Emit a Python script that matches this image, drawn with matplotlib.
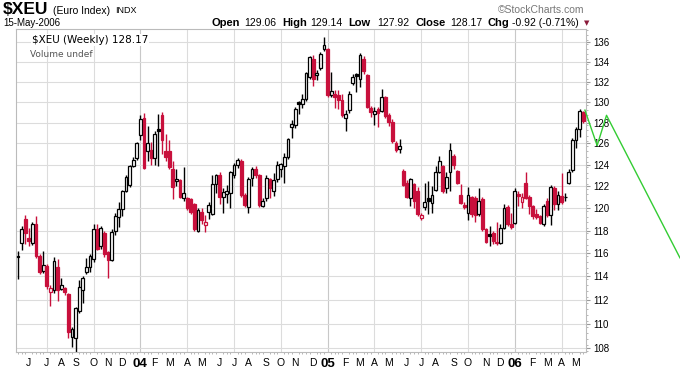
import numpy as np
import pandas as pd
import matplotlib
matplotlib.use("Agg")
import matplotlib.pyplot as plt
from matplotlib.ticker import FixedLocator, NullFormatter

plt.rcParams['font.family'] = ['Liberation Sans', 'DejaVu Sans']

# weekly candles, $XEU, May 2003 - May 2006
dates = pd.date_range(end="2006-05-15", periods=158, freq="W-MON")

opens = [115.75, 116.9, 119.0, 117.3, 116.9, 118.6, 115.8, 114.5, 114.9, 112.7,
         112.8, 114.8, 112.9, 113.0, 112.5, 108.9, 108.8, 111.1, 112.8, 114.4,
         114.8, 115.5, 118.1, 116.6, 117.8, 116.1, 115.4, 118.0, 119.2, 119.9,
         121.6, 122.1, 123.9, 124.6, 126.8, 128.4, 125.3, 125.4, 124.6, 127.4,
         128.7, 125.3, 125.3, 123.6, 122.5, 122.6, 120.9, 120.9, 120.8, 120.4,
         118.0, 119.7, 118.5, 119.7, 119.5, 122.2, 123.0, 121.0, 121.3, 121.4,
         123.0, 124.0, 124.3, 121.2, 120.1, 122.8, 123.6, 123.0, 120.2, 120.9,
         122.7, 121.6, 122.7, 123.6, 123.9, 124.7, 127.6, 127.8, 130.0, 129.8,
         130.3, 132.5, 134.3, 132.7, 133.4, 135.3, 135.3, 130.7, 130.8, 130.7,
         130.2, 128.4, 129.2, 131.9, 132.8, 132.3, 134.3, 132.7, 129.4, 128.8,
         129.3, 129.1, 130.5, 128.7, 128.1, 126.0, 125.5, 123.4, 122.3, 120.9,
         122.2, 121.6, 119.1, 120.1, 120.9, 120.5, 121.7, 123.3, 123.9, 121.8,
         123.3, 124.8, 123.4, 121.2, 120.3, 119.6, 121.0, 120.9, 119.5, 120.8,
         118.1, 117.7, 117.8, 116.9, 116.9, 118.2, 120.1, 118.6, 118.7, 121.3,
         120.6, 122.3, 121.0, 120.2, 119.5, 119.3, 118.6, 120.7, 119.4, 121.8,
         120.4, 121.1, 121.05, 122.3, 123.5, 126.3, 127.4, 129.06]
highs = [116.2, 118.4, 119.4, 118.2, 118.8, 119.3, 115.9, 116.2, 115.1, 113.3,
         115.7, 115.5, 113.9, 113.1, 112.6, 109.7, 111.4, 113.7, 114.0, 115.6,
         115.9, 118.6, 118.6, 118.4, 118.0, 116.2, 118.1, 119.6, 120.6, 121.7,
         123.0, 124.0, 124.7, 126.1, 128.7, 128.9, 127.7, 126.1, 127.2, 128.8,
         129.0, 126.9, 126.3, 124.3, 123.6, 122.7, 123.8, 121.0, 120.9, 120.5,
         120.0, 120.0, 119.4, 120.6, 123.0, 123.1, 123.3, 121.8, 122.1, 123.4,
         124.2, 124.6, 124.5, 121.4, 122.9, 123.8, 123.9, 123.1, 120.9, 123.0,
         122.8, 123.2, 124.3, 124.2, 125.1, 126.5, 128.2, 129.5, 130.1, 130.8,
         133.0, 134.6, 134.7, 133.2, 135.0, 136.5, 135.4, 133.0, 131.2, 131.2,
         130.8, 129.2, 131.1, 132.8, 132.9, 134.9, 134.6, 132.8, 129.6, 129.5,
         129.5, 131.3, 130.6, 128.9, 128.3, 126.2, 126.4, 123.6, 122.6, 122.8,
         122.3, 121.9, 119.6, 122.3, 122.5, 122.0, 123.9, 124.8, 124.0, 123.3,
         126.0, 125.0, 123.5, 122.2, 120.6, 121.9, 121.1, 121.1, 121.8, 121.0,
         118.2, 118.4, 118.0, 118.8, 118.6, 120.4, 120.3, 119.6, 121.8, 121.6,
         121.4, 123.3, 121.2, 120.3, 119.9, 119.4, 120.4, 120.9, 122.1, 122.0,
         121.6, 123.2, 121.4, 123.6, 126.5, 127.6, 129.3, 129.14]
lows = [113.8, 116.3, 116.8, 116.6, 116.7, 115.6, 114.2, 114.3, 112.9, 111.5,
        112.6, 111.9, 112.8, 112.4, 108.8, 108.1, 107.7, 110.9, 111.7, 114.2,
        114.4, 115.2, 116.3, 116.4, 115.7, 113.9, 115.3, 117.6, 118.3, 119.3,
        121.5, 121.9, 123.8, 124.4, 126.3, 123.6, 124.3, 124.0, 124.0, 123.9,
        125.0, 124.3, 123.6, 120.8, 122.0, 120.9, 120.7, 119.8, 119.5, 118.0,
        117.9, 118.6, 117.9, 119.0, 119.4, 121.4, 120.4, 119.6, 120.5, 120.0,
        122.8, 123.7, 121.0, 120.1, 119.6, 122.0, 122.8, 120.1, 120.1, 120.7,
        120.9, 121.1, 122.4, 122.9, 122.3, 124.5, 126.5, 127.5, 128.8, 129.4,
        130.1, 132.3, 131.6, 132.2, 133.2, 135.1, 130.5, 130.5, 129.4, 129.3,
        128.5, 127.2, 128.9, 131.7, 131.0, 131.5, 132.8, 129.4, 128.5, 127.8,
        127.6, 129.0, 128.4, 127.7, 126.0, 125.2, 125.1, 122.0, 120.9, 120.2,
        120.0, 119.3, 118.9, 119.8, 119.5, 119.6, 121.6, 123.2, 121.4, 121.4,
        121.6, 123.6, 122.2, 120.4, 119.9, 118.9, 119.2, 118.8, 119.3, 118.0,
        116.9, 116.6, 116.8, 116.7, 116.8, 118.1, 118.4, 118.1, 118.6, 120.2,
        120.0, 120.8, 119.5, 119.0, 119.0, 118.6, 118.4, 119.2, 118.5, 119.8,
        119.8, 120.4, 120.7, 122.2, 123.3, 125.6, 126.6, 127.92]
closes = [115.7, 118.1, 117.8, 117.1, 118.6, 115.8, 114.4, 115.0, 113.2, 113.0,
          115.3, 112.8, 113.3, 112.7, 109.3, 109.6, 111.3, 113.1, 113.9, 114.8,
          115.8, 118.1, 116.4, 118.2, 115.9, 115.4, 117.9, 119.3, 119.9, 121.6,
          122.9, 123.9, 124.4, 126.0, 128.3, 123.7, 126.0, 124.6, 126.9, 127.2,
          126.3, 124.7, 123.8, 121.9, 122.7, 121.0, 121.4, 120.0, 119.7, 118.1,
          119.8, 118.9, 118.8, 120.3, 122.2, 123.0, 121.0, 121.5, 121.6, 123.3,
          124.0, 124.4, 121.2, 120.3, 122.7, 123.6, 123.0, 120.3, 120.7, 122.8,
          121.8, 122.6, 124.0, 124.1, 124.7, 126.4, 127.9, 129.3, 129.8, 130.3,
          132.9, 134.5, 132.3, 132.9, 134.8, 135.7, 130.7, 131.1, 130.5, 130.2,
          128.7, 128.8, 130.8, 132.5, 132.6, 134.7, 133.1, 129.5, 129.0, 129.1,
          128.9, 130.5, 128.6, 128.1, 126.2, 125.4, 125.8, 122.1, 121.0, 122.7,
          120.7, 119.5, 119.4, 120.6, 120.7, 121.2, 123.3, 124.3, 121.6, 122.9,
          125.4, 124.0, 122.3, 120.5, 120.1, 121.2, 119.5, 119.4, 120.7, 118.1,
          117.0, 117.5, 117.1, 117.0, 118.2, 120.0, 118.6, 118.3, 121.6, 121.1,
          121.0, 120.9, 120.2, 119.3, 119.2, 118.7, 120.2, 119.4, 121.9, 120.4,
          121.2, 120.6, 121.0, 123.3, 126.3, 127.4, 129.09, 128.17]

# hand drawn green projection (week index, price)
proj_x = [157.5, 160.9, 163.5, 183.9]
proj_y = [129.2, 125.8, 128.7, 115.6]

y_ticks = list(range(108, 137, 2))
month_letters = "JFMAMJJASOND"

RED = "#c8103c"
GRID = "#dcdcdc"

fig = plt.figure(figsize=(6.8, 3.76), dpi=100)
ax = fig.add_axes([16/680, 1 - 352/376, 570/680, 323/376])
ax.set_yscale("log")

x = np.arange(len(closes))
for i in x:
    o, h, l, c = opens[i], highs[i], lows[i], closes[i]
    col = RED if (i > 0 and c < closes[i-1]) else "black"
    face = col if c < o else "white"
    ax.vlines(i, l, h, color=col, lw=1.0, zorder=2)
    ax.bar(i, max(abs(c - o), 0.03), bottom=min(o, c), width=0.78,
           facecolor=face, edgecolor=col, lw=0.9, zorder=3)

ax.plot(proj_x, proj_y, color="#33cc33", lw=1.0, clip_on=False, zorder=5)

ax.set_xlim(-0.55, 157.8)
ax.set_ylim(107.69, 137.34)

# y axis on right
ax.yaxis.tick_right()
ax.yaxis.set_major_locator(FixedLocator(y_ticks))
ax.yaxis.set_minor_locator(FixedLocator(np.arange(107.75, 137.3, 0.5)))
ax.yaxis.set_major_formatter(plt.FixedFormatter([str(t) for t in y_ticks]))
ax.yaxis.set_minor_formatter(NullFormatter())
ax.tick_params(axis="y", which="major", labelsize=7, length=3, pad=2, color="#999999")
ax.tick_params(axis="y", which="minor", length=1.5, color="#aaaaaa")
ax.grid(axis="y", which="major", color=GRID, lw=0.8, zorder=0)

# months
starts = [i for i in range(1, len(dates)) if dates[i].month != dates[i-1].month]
labels = []
for i in starts:
    d = dates[i]
    labels.append("%02d" % (d.year % 100) if d.month == 1 else month_letters[d.month - 1])
ax.set_xticks(starts)
ax.set_xticklabels(labels)
ax.set_xticks(x, minor=True)
ax.tick_params(axis="x", which="major", length=0, pad=4, labelsize=7.5)
ax.tick_params(axis="x", which="minor", length=1.5, color="#aaaaaa")
for lab, i in zip(ax.get_xticklabels(), starts):
    if dates[i].month == 1:
        lab.set_fontweight("bold")
        lab.set_fontsize(9.5)
for i in starts:
    if dates[i].month in (1, 4, 7, 10):
        ax.axvline(i, color="#c8c8c8" if dates[i].month == 1 else GRID, lw=0.8, zorder=0)

for s in ax.spines.values():
    s.set_color("#bbbbbb")
    s.set_linewidth(0.8)

# header
def px(xp, yp):
    return xp / 680, 1 - yp / 376

fig.text(*px(3, 10), "$XEU", fontsize=12.5, fontweight="bold", va="center")
fig.text(*px(53, 10.5), "(Euro Index)", fontsize=7.5, va="center")
fig.text(*px(115, 10.5), "INDX", fontsize=6.5, va="center")
fig.text(*px(3, 23), "15-May-2006", fontsize=7, va="center")
fig.text(*px(584, 10), "\u00a9StockCharts.com", fontsize=7.5, color="#777777",
         ha="right", va="center")

parts = [(211, "Open", True), (244, "129.06", False), (282, "High", True),
         (310, "129.14", False), (348, "Low", True), (377, "127.92", False),
         (415, "Close", True), (450, "128.17", False), (488, "Chg", True),
         (512, "-0.92 (-0.71%)", False)]
for xp, t, b in parts:
    fig.text(*px(xp, 23.5), t, fontsize=8 if b else 7.5,
             fontweight="bold" if b else "normal", va="center")
fig.text(*px(584, 23.5), "\u25bc", fontsize=5, color="#8b1a3a", va="center",
         family=["DejaVu Sans"])

ax.text(0.028, 0.982, "$XEU (Weekly) 128.17", transform=ax.transAxes,
        fontsize=7.5, family=["DejaVu Sans"], va="top", ha="left", zorder=6,
        bbox=dict(facecolor="white", edgecolor="none", pad=0.5))
ax.text(0.025, 0.935, "Volume undef", transform=ax.transAxes,
        fontsize=6.5, color="#555555", family=["DejaVu Sans"], va="top",
        ha="left", zorder=6)

fig.savefig("out.png", dpi=100)
